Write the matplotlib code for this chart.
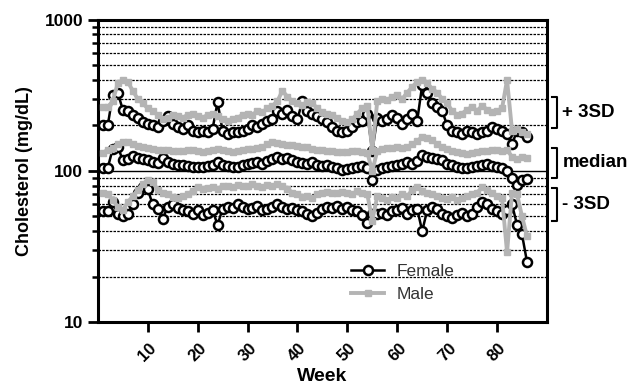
import numpy as np
import matplotlib
matplotlib.use("Agg")
import matplotlib.pyplot as plt
import matplotlib.transforms as mtransforms

plt.rcParams["font.family"] = ["Liberation Sans", "DejaVu Sans"]

# weekly values
weeks = list(range(1, 87))

female_upper = [200, 200, 320, 330, 255, 250, 235, 225, 210, 205,
                200, 195, 215, 230, 205, 195, 190, 200, 185, 180,
                185, 180, 190, 285, 185, 175, 180, 180, 185, 190,
                200, 195, 205, 215, 220, 250, 240, 255, 230, 220,
                290, 250, 240, 230, 220, 210, 195, 185, 180, 185,
                195, 210, 215, 240, 135, 225, 215, 220, 235, 225,
                205, 220, 240, 215, 370, 330, 280, 265, 250, 200,
                185, 180, 175, 185, 180, 175, 180, 185, 195, 190,
                185, 175, 150, 185, 180, 168]
female_median = [104, 105, 140, 145, 118, 120, 125, 122, 120, 118,
                 115, 113, 122, 115, 112, 110, 110, 108, 107, 106,
                 107, 108, 110, 115, 110, 108, 106, 107, 110, 112,
                 113, 115, 112, 116, 120, 123, 120, 122, 118, 115,
                 113, 112, 114, 110, 108, 110, 106, 104, 102, 103,
                 104, 106, 108, 105, 87, 102, 104, 106, 108, 110,
                 112, 114, 112, 116, 128, 124, 122, 120, 118, 112,
                 110, 106, 104, 105, 106, 108, 110, 112, 108, 106,
                 104, 100, 90, 81, 87, 88]
female_lower = [54, 54, 62, 52, 50, 52, 60, 72, 78, 76,
                60, 56, 48, 58, 60, 57, 55, 54, 52, 55,
                51, 53, 55, 44, 56, 58, 57, 60, 58, 56,
                57, 59, 55, 56, 58, 60, 58, 56, 57, 55,
                54, 52, 50, 53, 56, 58, 57, 59, 56, 58,
                55, 54, 51, 45, 52, 52, 53, 51, 54, 55,
                57, 52, 55, 56, 40, 55, 58, 56, 52, 50,
                49, 51, 53, 50, 52, 58, 62, 60, 56, 54,
                52, 55, 60, 44, 38, 25]

male_upper = [265, 265, 290, 380, 400, 390, 340, 300, 280, 260,
              250, 235, 220, 225, 235, 230, 225, 235, 240, 230,
              225, 235, 240, 230, 220, 215, 220, 225, 235, 240,
              235, 250, 245, 260, 270, 290, 340, 310, 290, 280,
              275, 285, 280, 260, 245, 240, 235, 225, 215, 210,
              220, 240, 260, 270, 138, 290, 300, 295, 310, 320,
              300, 330, 360, 390, 400, 380, 350, 330, 300, 280,
              250, 235, 240, 255, 265, 250, 270, 255, 245, 250,
              260, 400, 185, 190, 180, 175]
male_median = [132, 138, 142, 150, 156, 155, 150, 146, 144, 142,
               140, 138, 137, 138, 136, 135, 136, 138, 137, 135,
               134, 136, 138, 140, 138, 136, 134, 135, 137, 139,
               140, 142, 145, 150, 156, 152, 150, 148, 149, 147,
               145, 143, 140, 138, 137, 136, 135, 134, 133, 134,
               135, 136, 134, 132, 100, 136, 140, 142, 141, 143,
               142, 144, 150, 158, 168, 165, 160, 150, 145, 140,
               136, 133, 131, 130, 132, 133, 135, 136, 138, 137,
               135, 138, 124, 120, 124, 122]
male_lower = [72, 70, 64, 58, 55, 62, 68, 75, 82, 87,
              85, 75, 72, 70, 67, 66, 68, 70, 74, 78,
              76, 77, 78, 76, 79, 80, 78, 81, 79, 80,
              82, 79, 78, 81, 80, 82, 79, 76, 72, 70,
              67, 68, 66, 70, 72, 73, 72, 71, 73, 72,
              70, 74, 72, 70, 47, 68, 66, 64, 67, 66,
              70, 68, 75, 78, 74, 72, 70, 68, 66, 65,
              67, 64, 66, 68, 70, 72, 78, 75, 72, 68,
              66, 29, 72, 70, 50, 37]

band_labels = ["+ 3SD", "median", "- 3SD"]
band_ranges = [(193, 310), (90, 142), (47, 77)]

x_ticks = [10, 20, 30, 40, 50, 60, 70, 80]

fig = plt.figure(figsize=(6.39, 3.89), dpi=100)
ax = fig.add_axes([0.153, 0.172, 0.703, 0.777])

ax.set_yscale("log")
ax.set_ylim(10, 1000)
ax.set_xlim(0, 90)

# grid: dashed on minor decades, solid at 100
for dec in (10, 100):
    for m in range(2, 10):
        ax.axhline(dec * m, color="black", lw=0.9, ls=(0, (2, 1)), zorder=1)
ax.axhline(100, color="black", lw=1.0, zorder=1)

female_style = dict(color="black", lw=1.8, marker="o", ms=6.5,
                    mfc="white", mec="black", mew=1.8, zorder=3)
male_style = dict(color="#b4b4b4", lw=2.8, marker="s", ms=4.8,
                  mfc="#b4b4b4", mec="#b4b4b4", zorder=4)

ax.plot(weeks, female_upper, label="Female", **female_style)
ax.plot(weeks, female_median, **female_style)
ax.plot(weeks, female_lower, **female_style)
ax.plot(weeks, male_upper, label="Male", **male_style)
ax.plot(weeks, male_median, **male_style)
ax.plot(weeks, male_lower, **male_style)

for sp in ax.spines.values():
    sp.set_linewidth(2.2)

ax.set_yticks([10, 100, 1000])
ax.set_yticklabels(["10", "100", "1000"])
ax.tick_params(axis="y", which="major", length=7, width=2, labelsize=12.5)
ax.tick_params(axis="y", which="minor", length=4, width=1.8)
ax.yaxis.set_minor_formatter(plt.NullFormatter())
ax.set_xticks(x_ticks)
ax.set_xticklabels([str(t) for t in x_ticks], rotation=45, ha="center")
ax.tick_params(axis="x", length=7, width=2, labelsize=12, pad=6)
for lab in ax.get_xticklabels() + ax.get_yticklabels():
    lab.set_fontweight("bold")

ax.set_xlabel("Week", fontsize=14, fontweight="bold", labelpad=3)
ax.set_ylabel("Cholesterol (mg/dL)", fontsize=13, fontweight="bold", labelpad=8)

leg = ax.legend(loc="center left", bbox_to_anchor=(0.53, 0.13), frameon=False,
                fontsize=12.5, handlelength=1.9, handletextpad=0.7,
                labelspacing=0.45)
for t in leg.get_texts():
    t.set_color("#333333")

# brackets on the right
trans = mtransforms.blended_transform_factory(ax.transAxes, ax.transData)
for lab, (lo, hi) in zip(band_labels, band_ranges):
    x0, x1 = 1.012, 1.022
    ax.plot([x0, x1, x1, x0], [hi, hi, lo, lo], color="black", lw=1.5,
            transform=trans, clip_on=False)
    ax.text(x1 + 0.012, np.sqrt(lo * hi), lab, transform=trans,
            fontsize=13.5, fontweight="bold", va="center", ha="left")

fig.savefig("out.png", dpi=100)
